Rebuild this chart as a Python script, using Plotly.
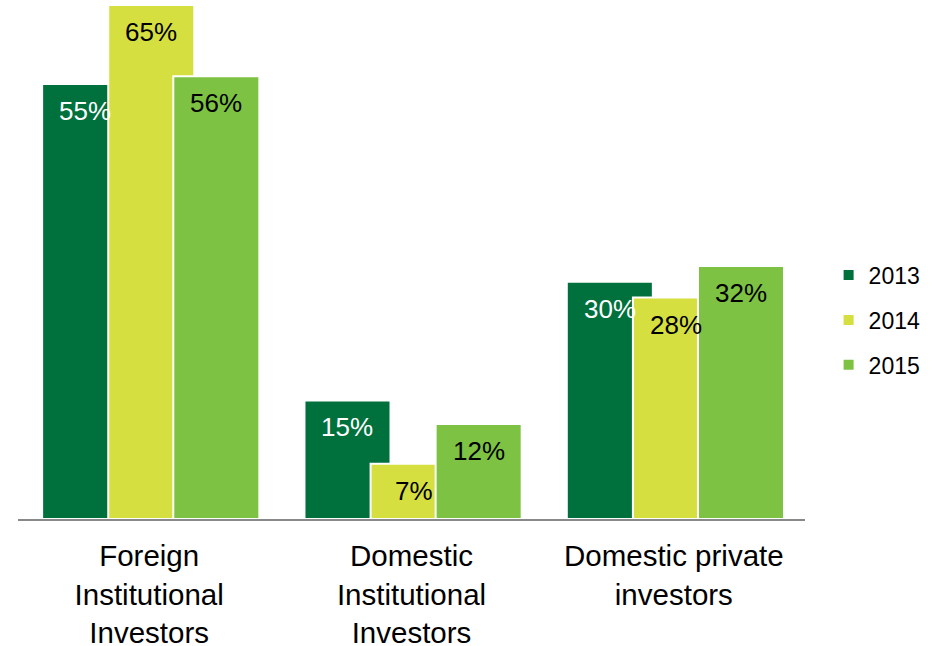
import plotly.graph_objects as go

categories = ["Foreign<br>Institutional<br>Investors", "Domestic<br>Institutional<br>Investors", "Domestic private<br>investors"]
years = ["2013", "2014", "2015"]
v2013 = [55, 15, 30]
v2014 = [65, 7, 28]
v2015 = [56, 12, 32]
series = [v2013, v2014, v2015]
colors = ["#00703C", "#D5DF3F", "#7DC242"]
label_colors = ["white", "black", "black"]
offsets = [-0.408, -0.156, 0.092]
bar_width = 0.328

xs = list(range(len(categories)))
fig = go.Figure()
for name, vals, col, off in zip(years, series, colors, offsets):
    fig.add_trace(go.Bar(
        x=xs, y=vals, name=name, offset=off, width=bar_width,
        marker=dict(color=col, line=dict(color="white", width=2)),
        legendgroup=name, cliponaxis=False,
    ))

annotations = []
for vals, off, lc in zip(series, offsets, label_colors):
    for xi, v in zip(xs, vals):
        annotations.append(dict(
            x=xi + off + bar_width / 2, y=v, xref="x", yref="y",
            text=f"{v}%", showarrow=False, yanchor="middle", yshift=-27,
            font=dict(family="Liberation Sans, Arial", size=26, color=lc),
        ))

fig.update_layout(
    width=942, height=646,
    margin=dict(l=18, r=137, t=5, b=127, autoexpand=False),
    paper_bgcolor="white", plot_bgcolor="white",
    barmode="overlay",
    showlegend=True,
    legend=dict(x=1.03, y=0.387, xanchor="left", yanchor="middle",
                font=dict(family="Liberation Sans, Arial", size=23, color="black"),
                tracegroupgap=12, traceorder="grouped"),
    annotations=annotations,
    xaxis=dict(range=[-0.5, 2.5], tickvals=xs, ticktext=categories,
               showgrid=False, zeroline=False, showline=True, automargin=False,
               linecolor="#898989", linewidth=2, ticks="outside", ticklen=10,
               tickcolor="rgba(0,0,0,0)",
               tickfont=dict(family="Liberation Sans, Arial", size=29.5, color="black")),
    yaxis=dict(range=[0, 65], visible=False, showgrid=False, zeroline=False, automargin=False),
)
fig.write_html("out.html", config={"displayModeBar": False},
               post_script="document.body.style.margin='0px';")
